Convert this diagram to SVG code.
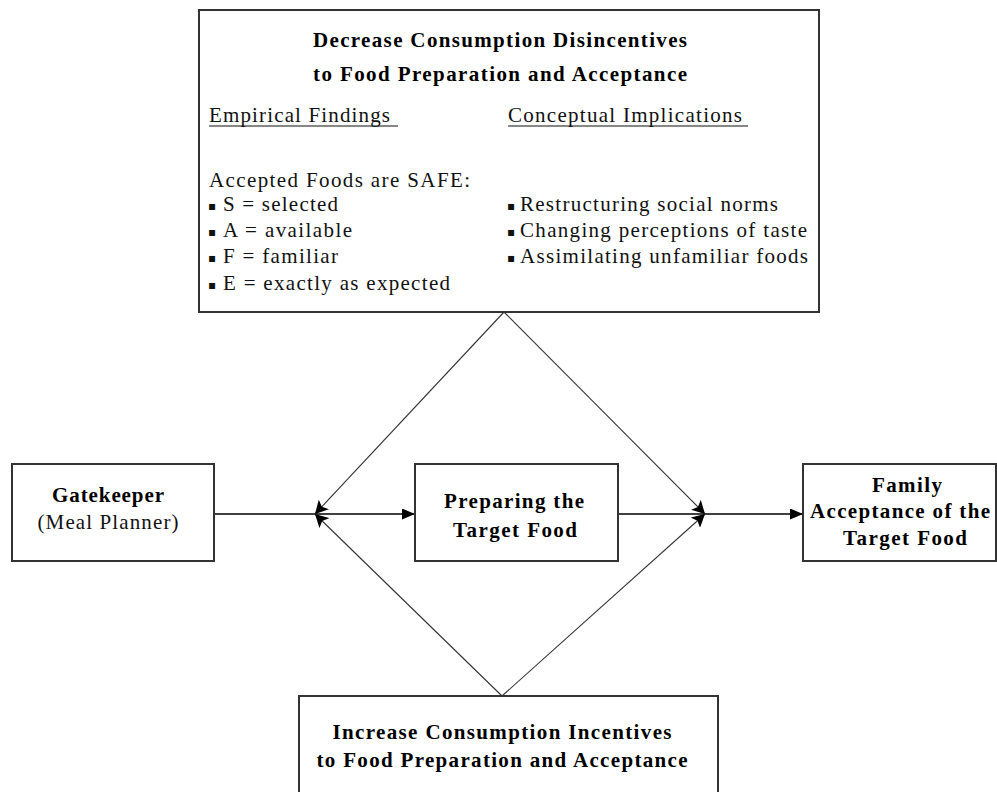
<svg xmlns="http://www.w3.org/2000/svg" width="997" height="792" viewBox="0 0 997 792">
<defs>
<marker id="ah" markerUnits="userSpaceOnUse" markerWidth="13" markerHeight="11" refX="13" refY="5.5" orient="auto"><path d="M0,0 L13,5.5 L0,11 z" fill="#000"/></marker>
<marker id="ahd" markerUnits="userSpaceOnUse" markerWidth="14" markerHeight="14" refX="13" refY="7" orient="auto"><path d="M0,0 L13,7 L0,14 L3,7 z" fill="#000"/></marker>
</defs>
<style>
.box{fill:#fff;stroke:#333;stroke-width:2}
.b{font-family:"Liberation Serif","Times New Roman",serif;font-weight:bold;font-size:21px;fill:#000}
.r{font-family:"Liberation Serif","Times New Roman",serif;font-size:21px;fill:#111}
.bul{font-family:"DejaVu Sans",sans-serif;font-size:12px;fill:#111}
.c{text-anchor:middle}
.ln{stroke:#000;stroke-width:1.6;fill:none}
.dl{stroke:#333;stroke-width:1.1;fill:none}
.ul{stroke:#111;stroke-width:1.2}
</style>
<rect width="997" height="792" fill="#fff"/>
<g id="connectors">
<line class="ln" x1="214" y1="514" x2="315" y2="514"/>
<line class="ln" x1="315" y1="514" x2="415" y2="514" marker-end="url(#ah)"/>
<line class="ln" x1="618" y1="514" x2="705" y2="514"/>
<line class="ln" x1="705" y1="514" x2="803" y2="514" marker-end="url(#ah)"/>
<line class="dl" x1="504" y1="312" x2="315" y2="514" marker-end="url(#ahd)"/>
<line class="dl" x1="502" y1="696" x2="315" y2="514" marker-end="url(#ahd)"/>
<line class="dl" x1="504" y1="312" x2="705" y2="514" marker-end="url(#ahd)"/>
<line class="dl" x1="502" y1="696" x2="705" y2="514" marker-end="url(#ahd)"/>
</g>
<g id="decrease">
<rect class="box" x="199" y="10" width="620" height="302"/>
<text class="b c" x="500" y="47" textLength="374" lengthAdjust="spacing">Decrease Consumption Disincentives</text>
<text class="b c" x="500" y="81" textLength="374" lengthAdjust="spacing">to Food Preparation and Acceptance</text>
<text class="r" x="209" y="122" textLength="181" lengthAdjust="spacing">Empirical Findings</text>
<line class="ul" x1="209" y1="126" x2="398" y2="126"/>
<text class="r" x="508" y="122" textLength="234" lengthAdjust="spacing">Conceptual Implications</text>
<line class="ul" x1="508" y1="126" x2="748" y2="126"/>
<text class="r" x="209" y="187" textLength="261" lengthAdjust="spacing">Accepted Foods are SAFE:</text>
<text class="bul" x="208" y="210">▪</text>
<text class="r" x="223" y="211" textLength="115" lengthAdjust="spacing">S = selected</text>
<text class="bul" x="208" y="236">▪</text>
<text class="r" x="223" y="237" textLength="129" lengthAdjust="spacing">A = available</text>
<text class="bul" x="208" y="262">▪</text>
<text class="r" x="223" y="263" textLength="115" lengthAdjust="spacing">F = familiar</text>
<text class="bul" x="208" y="289">▪</text>
<text class="r" x="223" y="290" textLength="227" lengthAdjust="spacing">E = exactly as expected</text>
<text class="bul" x="507" y="210">▪</text>
<text class="r" x="520" y="211" textLength="258" lengthAdjust="spacing">Restructuring social norms</text>
<text class="bul" x="507" y="236">▪</text>
<text class="r" x="520" y="237" textLength="287" lengthAdjust="spacing">Changing perceptions of taste</text>
<text class="bul" x="507" y="262">▪</text>
<text class="r" x="520" y="263" textLength="288" lengthAdjust="spacing">Assimilating unfamiliar foods</text>
</g>
<g id="gatekeeper">
<rect class="box" x="12" y="464" width="202" height="97"/>
<text class="b c" x="108" y="502" textLength="112" lengthAdjust="spacing">Gatekeeper</text>
<text class="r c" x="108" y="529" textLength="141" lengthAdjust="spacing">(Meal Planner)</text>
</g>
<g id="preparing">
<rect class="box" x="415" y="464" width="203" height="97"/>
<text class="b c" x="514" y="508" textLength="140" lengthAdjust="spacing">Preparing the</text>
<text class="b c" x="515" y="537" textLength="124" lengthAdjust="spacing">Target Food</text>
</g>
<g id="family">
<rect class="box" x="803" y="464" width="193" height="97"/>
<text class="b c" x="907" y="492" textLength="70" lengthAdjust="spacing">Family</text>
<text class="b c" x="900" y="518" textLength="180" lengthAdjust="spacing">Acceptance of the</text>
<text class="b c" x="905" y="545" textLength="124" lengthAdjust="spacing">Target Food</text>
</g>
<g id="increase">
<rect class="box" x="299" y="696" width="419" height="120"/>
<text class="b c" x="502" y="739" textLength="339" lengthAdjust="spacing">Increase Consumption Incentives</text>
<text class="b c" x="502" y="767" textLength="371" lengthAdjust="spacing">to Food Preparation and Acceptance</text>
</g>
</svg>
